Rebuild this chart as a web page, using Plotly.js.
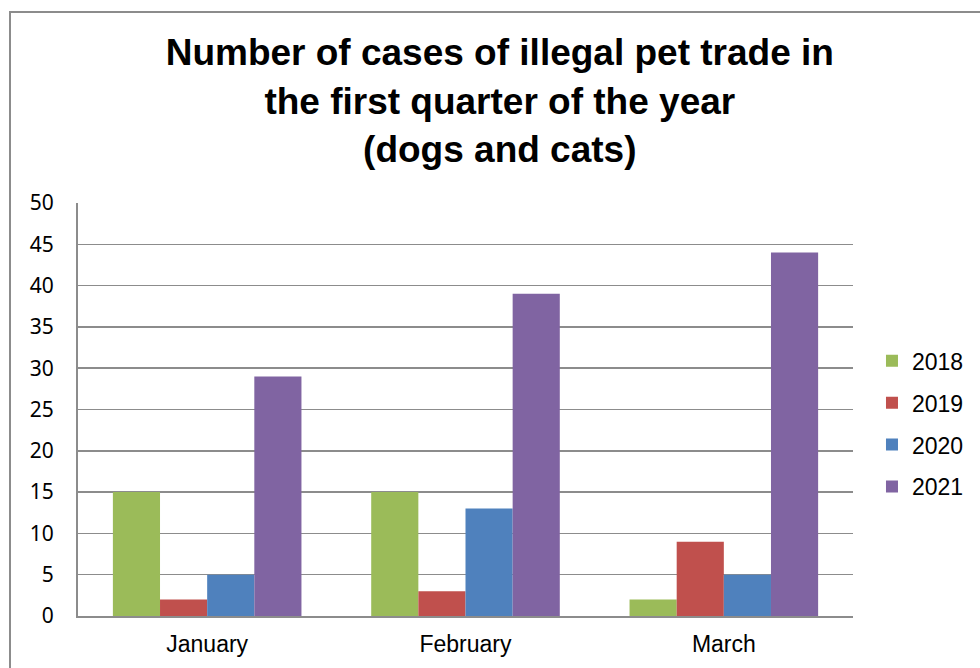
<!DOCTYPE html>
<html>
<head>
<meta charset="utf-8">
<script src="https://cdn.plot.ly/plotly-3.0.1.min.js"></script>
<style>
html,body{margin:0;padding:0;background:#fff;overflow:hidden;}
#wrap{position:relative;width:980px;height:668px;}
#chart{position:absolute;left:0;top:0;width:980px;height:668px;}
#frame{position:absolute;left:9px;top:11px;width:1000px;height:700px;border:2px solid #8c8c8c;pointer-events:none;box-sizing:border-box;}
</style>
</head>
<body>
<div id="wrap"><div id="chart"></div><div id="frame"></div></div>
<script>
const months = ["January", "February", "March"];
const seriesNames = ["2018", "2019", "2020", "2021"];
const v2018 = [15, 15, 2];
const v2019 = [2, 3, 9];
const v2020 = [5, 13, 5];
const v2021 = [29, 39, 44];
const yTicks = [0, 5, 10, 15, 20, 25, 30, 35, 40, 45, 50];
const colors = ["#9BBB59", "#C0504D", "#4F81BD", "#8064A2"];
const values = [v2018, v2019, v2020, v2021];

const traces = seriesNames.map((n, i) => ({
  type: "bar",
  name: n,
  x: months,
  y: values[i],
  marker: {color: colors[i], line: {width: 0}},
  legendgroup: n,
  hoverinfo: "x+y+name"
}));

const layout = {
  width: 980, height: 668,
  paper_bgcolor: "#ffffff", plot_bgcolor: "#ffffff",
  margin: {l: 78, r: 127, t: 203, b: 52, autoexpand: false},
  barmode: "group", bargap: 0.27, bargroupgap: 0,
  title: {
    text: "<b>Number of cases of illegal pet trade in<br>the first quarter of the year<br>(dogs and cats)</b>",
    font: {family: "Liberation Sans, Arial, sans-serif", size: 37, color: "#000"},
    x: 0.51, xanchor: "center", y: 0.902, yanchor: "middle"
  },
  xaxis: {
    type: "category",
    showgrid: false, zeroline: false,
    showline: true, linecolor: "#8c8c8c", linewidth: 2,
    ticks: "", tickfont: {family: "Liberation Sans, Arial, sans-serif", size: 23, color: "#000"},
    ticklabelstandoff: 6
  },
  yaxis: {
    range: [0, 50], tickvals: yTicks, ticktext: yTicks.map(String),
    showgrid: true, gridcolor: "#8c8c8c", gridwidth: 1.5,
    zeroline: false, showline: true, linecolor: "#8c8c8c", linewidth: 2,
    ticks: "", tickfont: {family: "Noto Sans, Open Sans, sans-serif", size: 21, color: "#000"},
    ticklabelstandoff: 18
  },
  legend: {
    x: 1.0245, xanchor: "left", y: 0.67, yanchor: "top",
    font: {family: "Liberation Sans, Arial, sans-serif", size: 23, color: "#000"},
    traceorder: "grouped", tracegroupgap: 9, itemwidth: 30,
    bgcolor: "rgba(0,0,0,0)"
  },
  showlegend: true
};

Plotly.newPlot("chart", traces, layout, {displayModeBar: false, staticPlot: true});
</script>
</body>
</html>
